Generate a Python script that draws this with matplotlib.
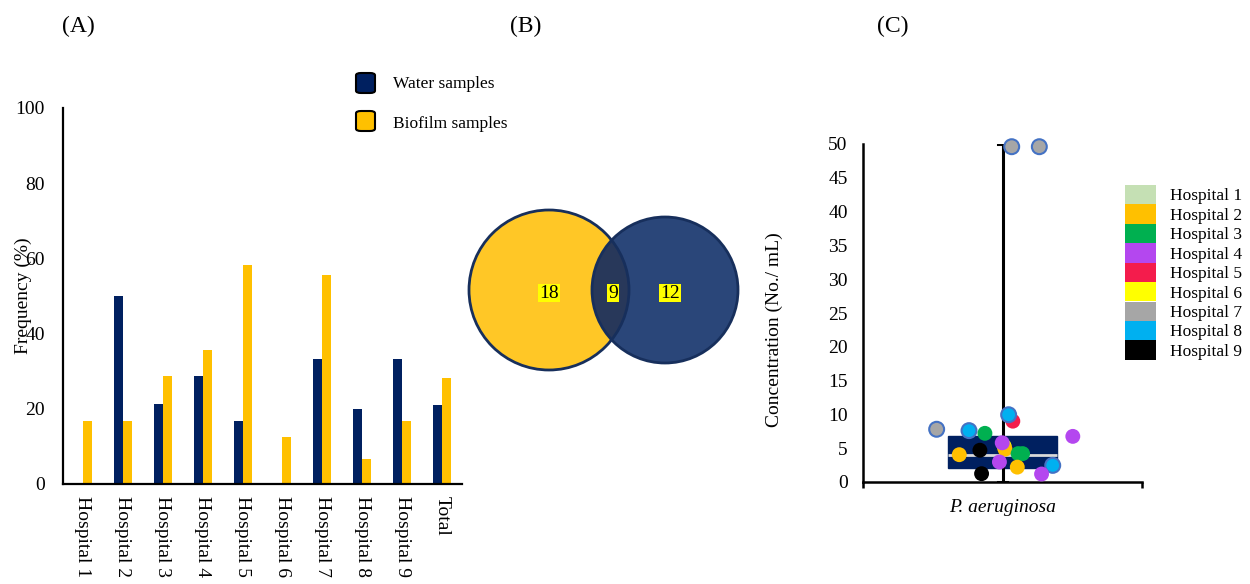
import matplotlib
matplotlib.use("Agg")
from matplotlib import pyplot as plt
from matplotlib.patches import Circle, Patch, FancyBboxPatch

plt.rcParams['font.family'] = ['Liberation Serif', 'DejaVu Serif']

# Panel A data
categories = ['Hospital 1', 'Hospital 2', 'Hospital 3', 'Hospital 4', 'Hospital 5',
              'Hospital 6', 'Hospital 7', 'Hospital 8', 'Hospital 9', 'Total']
water = [0, 50, 21.4, 28.6, 16.7, 0, 33.3, 20, 33.3, 20.9]
biofilm = [16.7, 16.7, 28.6, 35.7, 58.3, 12.5, 55.6, 6.7, 16.7, 28.1]
series_names = ['Water samples', 'Biofilm samples']

# Panel B data (biofilm only, shared, water only)
venn_counts = [18, 9, 12]

# Panel C data
hospitals = ['Hospital %d' % i for i in range(1, 10)]
hosp_colors = ['#C5E0B4', '#FFC000', '#00B050', '#B447EF', '#F41C4C',
               '#FFFF00', '#A6A6A6', '#00B0F0', '#000000']
pt_hosp = [7, 7, 7, 8, 3, 5, 8, 4, 6, 2, 4, 9, 2, 3, 3, 4, 2, 8, 4, 9]
pt_x = [0.533, 0.632, 0.264, 0.380, 0.437, 0.537, 0.522, 0.752, 0.506, 0.509,
        0.499, 0.419, 0.345, 0.556, 0.572, 0.489, 0.553, 0.680, 0.640, 0.425]
pt_y = [49.6, 49.6, 7.8, 7.6, 7.2, 9.0, 9.95, 6.75, 5.3, 4.85,
        5.8, 4.7, 4.04, 4.2, 4.2, 2.96, 2.2, 2.46, 1.18, 1.23]
box_stats = dict(whislo=0, q1=2.0, med=3.94, q3=6.8, whishi=50)

NAVY = '#002060'
GOLD = '#FFC000'

fig = plt.figure(figsize=(12.5, 5.84), dpi=100)
W, H = 1250, 584


def fig_box(x0, y0, x1, y1):
    # pixel box (top-left origin) -> figure fraction rect
    return [x0 / W, 1 - y1 / H, (x1 - x0) / W, (y1 - y0) / H]


# ---------------- (A) bar chart ----------------
axA = fig.add_axes(fig_box(63, 108, 462, 484))
bw = 0.225
xs = list(range(len(categories)))
axA.bar([x - bw / 2 for x in xs], water, width=bw, color=NAVY)
axA.bar([x + bw / 2 for x in xs], biofilm, width=bw, color=GOLD)
axA.set_xlim(-0.5, len(categories) - 0.5)
axA.set_ylim(0, 100)
axA.set_yticks(range(0, 101, 20))
axA.set_xticks(xs)
axA.set_xticklabels(categories, rotation=-90, va='top', ha='center')
axA.tick_params(axis='y', length=0, pad=13, labelsize=14)
axA.tick_params(axis='x', length=0, pad=9, labelsize=14)
for s in ['top', 'right']:
    axA.spines[s].set_visible(False)
for s in ['left', 'bottom']:
    axA.spines[s].set_linewidth(1.6)
axA.set_ylabel('Frequency (%)', fontsize=14)
axA.yaxis.set_label_coords(-0.078, 0.5)

# legend for A (rounded squares)
for i, (name, col) in enumerate(zip(series_names, [NAVY, GOLD])):
    y0 = 73 + i * 38
    r = fig_box(356, y0, 375, y0 + 20)
    fig.add_artist(FancyBboxPatch((r[0], r[1]), r[2], r[3],
                                  boxstyle='round,pad=0,rounding_size=0.004',
                                  transform=fig.transFigure, facecolor=col,
                                  edgecolor='black', linewidth=1.5))
    fig.text(393 / W, 1 - (84 + i * 40) / H, name, fontsize=12.5, va='center', ha='left')

# ---------------- (B) Venn ----------------
axB = fig.add_axes(fig_box(440, 190, 760, 395))
axB.set_xlim(440, 760)
axB.set_ylim(395, 190)
axB.set_aspect('equal')
axB.axis('off')
left_c = Circle((549, 290), 80, facecolor='#FFC726', edgecolor='none')
right_c = Circle((665, 290), 73, facecolor='#2A4679', edgecolor='none')
axB.add_patch(left_c)
axB.add_patch(right_c)
lens = Circle((665, 290), 73, facecolor='#28385A', edgecolor='none')
axB.add_patch(lens)
lens.set_clip_path(left_c)
axB.add_patch(Circle((549, 290), 80, facecolor='none', edgecolor='#172F5C', linewidth=2))
axB.add_patch(Circle((665, 290), 73, facecolor='none', edgecolor='#172F5C', linewidth=2))
for cx, n in zip([549, 613, 670], venn_counts):
    axB.text(cx, 293, str(n), fontsize=14, ha='center', va='center',
             bbox=dict(facecolor='#FFFF00', edgecolor='none', pad=0.5))

# ---------------- (C) box + points ----------------
axC = fig.add_axes(fig_box(863, 144, 1142, 482))
axC.bxp([box_stats], positions=[0.5], widths=0.39, showfliers=False,
        patch_artist=True, capwidths=0.035,
        boxprops=dict(facecolor=NAVY, edgecolor=NAVY, linewidth=1),
        medianprops=dict(color='#D9D9D9', linewidth=2),
        whiskerprops=dict(color='black', linewidth=2.2),
        capprops=dict(color='black', linewidth=2.2))
cols = [hosp_colors[h - 1] for h in pt_hosp]
edges = ['#4472C4' if h in (7, 8) else 'none' for h in pt_hosp]
axC.scatter(pt_x, pt_y, s=115, c=cols, edgecolors=edges, linewidths=1.5,
            zorder=5, clip_on=False)
axC.set_xlim(0, 1)
axC.set_ylim(0, 50)
axC.set_yticks(range(0, 51, 5))
axC.set_xticks([0, 1])
axC.set_xticklabels(['', ''])
axC.tick_params(axis='x', direction='out', length=4, width=1.8)
axC.tick_params(axis='y', length=0, pad=11, labelsize=14)
for s in ['top', 'right']:
    axC.spines[s].set_visible(False)
for s in ['left', 'bottom']:
    axC.spines[s].set_linewidth(1.8)
axC.set_ylabel('Concentration (No./ mL)', fontsize=14)
axC.yaxis.set_label_coords(-0.287, 0.45)
axC.text(0.5, -0.074, 'P. aeruginosa', style='italic', fontsize=14,
         ha='center', va='center', transform=axC.transAxes)

handles = [Patch(facecolor=c, edgecolor='none') for c in hosp_colors]
fig.legend(handles, hospitals, loc='upper left', bbox_to_anchor=(1125 / W, 1 - 185 / H),
           frameon=False, fontsize=12.5, labelspacing=0, handleheight=1.33,
           handlelength=1.79, handletextpad=0.8, borderpad=0, borderaxespad=0)

# panel labels
for lab, x in zip(['(A)', '(B)', '(C)'], [78, 526, 893]):
    fig.text(x / W, 1 - 26 / H, lab, fontsize=17, ha='center', va='center')

fig.savefig('out.png', dpi=100)
